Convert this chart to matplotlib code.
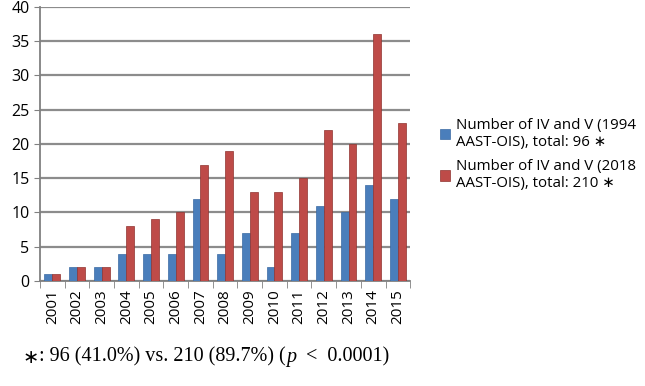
from matplotlib import pyplot as plt
import numpy as np

years = [str(y) for y in range(2001, 2016)]
n_1994 = [1, 2, 2, 4, 4, 4, 12, 4, 7, 2, 7, 11, 10, 14, 12]
n_2018 = [1, 2, 2, 8, 9, 10, 17, 19, 13, 13, 15, 22, 20, 36, 23]
labels = ["Number of IV and V (1994\nAAST-OIS), total: 96 \u2217",
          "Number of IV and V (2018\nAAST-OIS), total: 210 \u2217"]

blue = "#4a7ebb"
red = "#be4b48"
sans = ["Open Sans", "DejaVu Sans"]
serif = ["Liberation Serif", "DejaVu Serif"]


def main():
    fig = plt.figure(figsize=(6.45, 3.86), dpi=100)
    ax = fig.add_axes([0.062, 0.272, 0.574, 0.71])
    x = np.arange(len(years))
    w = 0.32
    b1 = ax.bar(x - w / 2, n_1994, w, color=blue, edgecolor="#3a6aa3", linewidth=0.5,
                label=labels[0], zorder=3)
    b2 = ax.bar(x + w / 2, n_2018, w, color=red, edgecolor="#8f3330", linewidth=0.5,
                label=labels[1], zorder=3)

    ax.set_xlim(-0.5, len(years) - 0.5)
    ax.set_ylim(0, 40)
    ax.set_yticks(range(0, 41, 5))
    ax.set_xticks(x)
    ax.set_xticklabels(years, rotation=90, fontsize=11, family=sans)
    ax.set_xticks(np.arange(-0.5, len(years), 1), minor=True)
    ax.tick_params(axis="x", which="major", length=0, pad=6)
    ax.tick_params(axis="x", which="minor", length=5, color="#808080")
    ax.tick_params(axis="y", length=4, color="#808080", labelsize=11.5)
    for t in ax.get_yticklabels():
        t.set_family(sans)
    ax.grid(axis="y", color="#8c8c8c", linewidth=1.6, zorder=0)
    for s in ["top", "right"]:
        ax.spines[s].set_visible(False)
    for s in ["left", "bottom"]:
        ax.spines[s].set_color("#808080")
        ax.spines[s].set_linewidth(1.3)

    fig.legend(handles=[b1, b2], loc="center left", bbox_to_anchor=(0.677, 0.6),
               frameon=False, prop={"family": sans, "size": 10.8},
               handlelength=0.7, handleheight=0.7, handletextpad=0.4,
               labelspacing=0.6, borderaxespad=0, borderpad=0.2)

    # footnote, pieced together so the p can be italic
    t1 = fig.text(0.035, 0.06, "\u2217", family=sans, fontsize=14)
    t2 = ax.annotate(": 96 (41.0%) vs. 210 (89.7%) (", xy=(1, 0), xycoords=t1,
                     va="bottom", family=serif, fontsize=14.5)
    t3 = ax.annotate("p", xy=(1, 0), xycoords=t2, va="bottom", family=serif,
                     style="italic", fontsize=14.5)
    ax.annotate("  <  0.0001)", xy=(1, 0), xycoords=t3, va="bottom",
                family=serif, fontsize=14.5)

    fig.savefig("out.png", dpi=100)


if __name__ == "__main__":
    main()
